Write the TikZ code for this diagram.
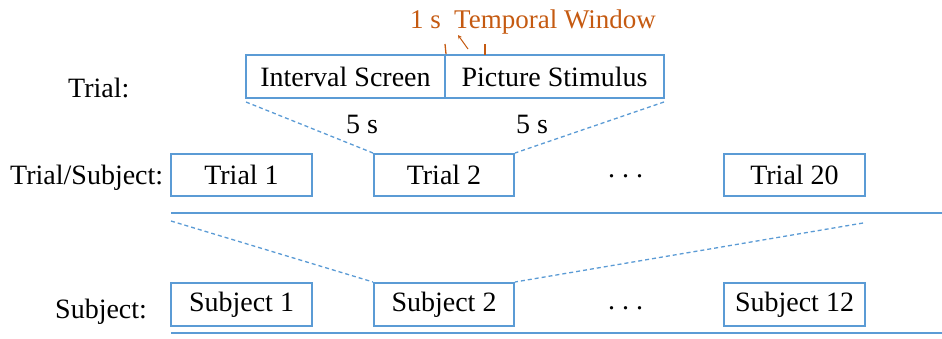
\documentclass[tikz,border=0pt]{standalone}
\usepackage{fontspec}
\setmainfont{Liberation Serif}
\usetikzlibrary{arrows.meta}
\definecolor{boxblue}{HTML}{5B9BD5}
\definecolor{orng}{HTML}{C55A11}
\begin{document}
\begin{tikzpicture}[x=1pt,y=-1pt,
  box/.style={draw=boxblue,line width=2pt,inner sep=0pt,font=\fontsize{28}{30}\selectfont},
  lbl/.style={inner sep=0pt,font=\fontsize{28}{30}\selectfont},
  olbl/.style={inner sep=0pt,text=orng,font=\fontsize{27}{29}\selectfont},
  dashline/.style={draw=boxblue,line width=1.3pt,dash pattern=on 4pt off 3pt},
  sepline/.style={draw=boxblue,line width=2.2pt},
  tick/.style={draw=orng,line width=1.3pt}]
\useasboundingbox (0,0) rectangle (942,338);
% labels
\node[lbl,anchor=base west] (ltrial) at (68,97) {Trial:};
\node[lbl,anchor=base west] (ltrialsub) at (10,184) {Trial/Subject:};
\node[lbl,anchor=base west] (lsub) at (55,318) {Subject:};
% top boxes
\node[box,minimum width=199pt,minimum height=43pt] (is) at (345.5,76.5) {Interval Screen};
\node[box,minimum width=219pt,minimum height=43pt] (ps) at (554.5,76.5) {Picture Stimulus};
% orange annotation
\node[olbl,anchor=base west] (ones) at (410,28) {1 s};
\node[olbl,anchor=base west] (tw) at (454,28) {Temporal Window};
\coordinate (tk1) at (445,44);
\coordinate (tk2) at (485,44);
\draw[tick] (tk1) -- (is.north east);
\draw[tick] (tk2) -- (485,55);
\coordinate (arA) at (468,49);
\coordinate (arB) at (458,35);
\draw[draw=orng,line width=1pt,-{Stealth[length=4pt,width=4pt]}] (arA) -- (arB);
% trial row
\node[box,minimum width=141pt,minimum height=42pt] (t1) at (241.5,175) {Trial 1};
\node[box,minimum width=140pt,minimum height=42pt] (t2) at (444,175) {Trial 2};
\node[lbl,anchor=base] (tdots) at (625.5,177.5) {.\ .\ .};
\node[box,minimum width=141pt,minimum height=42pt] (t20) at (794.5,175) {Trial 20};
% 5 s labels
\node[lbl] (fs1) at (362,124) {5 s};
\node[lbl] (fs2) at (532,124) {5 s};
% dashed zoom lines top
\coordinate (zl) at (246,102);
\coordinate (zr) at (664,102);
\draw[dashline] (zl) -- (t2.north west);
\draw[dashline] (zr) -- (t2.north east);
% separator line 1
\coordinate (s1a) at (171,213);
\coordinate (s1b) at (942,213);
\draw[sepline] (s1a) -- (s1b);
% subject row
\node[box,minimum width=141pt,minimum height=43pt] (s1) at (241.5,304.5) {Subject 1};
\node[box,minimum width=140pt,minimum height=43pt] (s2) at (444,304.5) {Subject 2};
\node[lbl,anchor=base] (sdots) at (625.5,309) {.\ .\ .};
\node[box,minimum width=141pt,minimum height=43pt] (s12) at (794.5,304.5) {Subject 12};
% dashed zoom lines bottom
\coordinate (bl) at (171,221);
\coordinate (br) at (863,223);
\draw[dashline] (bl) -- (s2.north west);
\draw[dashline] (br) -- (s2.north east);
% separator line 2
\coordinate (s2a) at (171,333);
\coordinate (s2b) at (942,333);
\draw[sepline] (s2a) -- (s2b);
\end{tikzpicture}
\end{document}
